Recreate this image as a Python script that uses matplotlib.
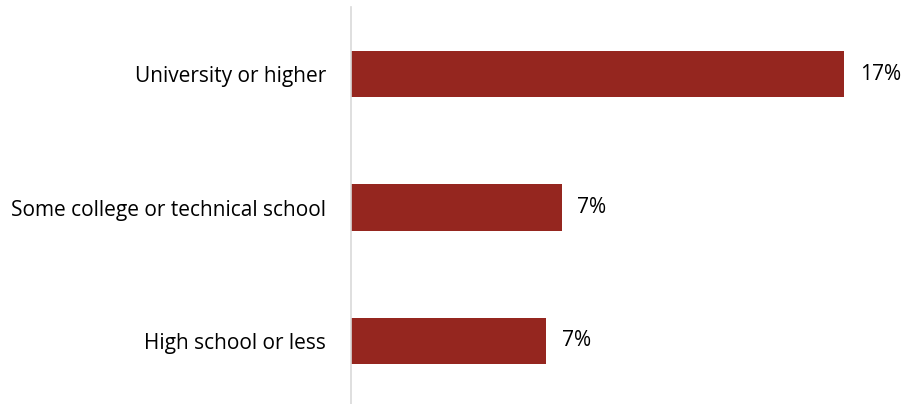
import matplotlib.pyplot as plt

# Data
categories = ['University or higher', 'Some college or technical school', 'High school or less']
values = [17.0, 7.26, 6.74]
labels = ['17%', '7%', '7%']

plt.rcParams['font.family'] = ['Open Sans', 'DejaVu Sans']

fig = plt.figure(figsize=(9.04, 4.04), dpi=100)
ax = fig.add_axes([351 / 904, 0, 553 / 904, 397 / 404])

y = range(len(categories))
ax.barh(y, values, height=0.345, color='#95261f')

for yi, v, lab in zip(y, values, labels):
    ax.text(v + 0.55, yi, lab, va='center', ha='left', fontsize=15, color='#000000')

ax.set_xlim(0, 19.07)
ax.set_ylim(2.472, -0.502)
ax.set_yticks(list(y))
ax.set_yticklabels(categories, fontsize=15)
ax.tick_params(axis='y', length=0, pad=18)
ax.set_xticks([])

for side in ['top', 'right', 'bottom']:
    ax.spines[side].set_visible(False)
ax.spines['left'].set_color('#d9d9d9')
ax.spines['left'].set_linewidth(1.2)

plt.savefig('out.png', dpi=100)
